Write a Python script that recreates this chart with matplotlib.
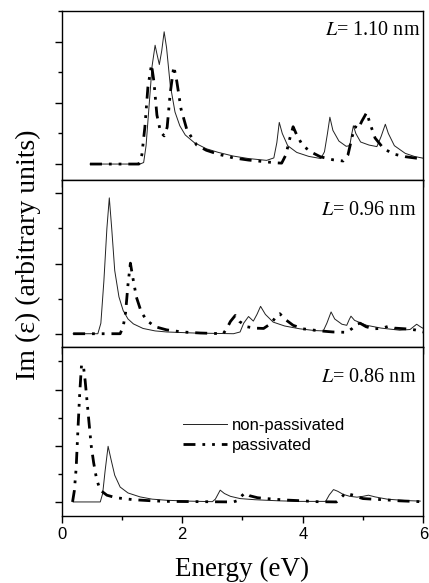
import matplotlib
matplotlib.use('Agg')
import matplotlib.pyplot as plt
from matplotlib.ticker import MultipleLocator

plt.rcParams['lines.scale_dashes'] = False

# L = 1.10 nm
e1_np = [0.47, 1.30, 1.36, 1.40, 1.45, 1.50, 1.55, 1.58, 1.62, 1.66, 1.70, 1.74, 1.80, 1.88, 1.96,
         2.05, 2.2, 2.4, 2.6, 2.85, 3.1, 3.4, 3.52, 3.57, 3.61, 3.66, 3.75, 3.9, 4.1, 4.3, 4.36,
         4.41, 4.45, 4.50, 4.6, 4.72, 4.78, 4.81, 4.84, 4.88, 4.96, 5.1, 5.23, 5.30, 5.37, 5.42,
         5.52, 5.7, 5.85, 6.0]
v1_np = [0, 0, 0.05, 0.6, 1.9, 3.2, 3.88, 3.6, 3.25, 3.7, 4.32, 3.8, 2.6, 1.7, 1.25,
         0.95, 0.7, 0.5, 0.38, 0.26, 0.18, 0.12, 0.2, 0.7, 1.36, 1.0, 0.6, 0.38, 0.25, 0.18, 0.4,
         1.0, 1.53, 1.1, 0.75, 0.58, 0.6, 0.95, 1.25, 1.0, 0.72, 0.62, 0.57, 0.9, 1.3, 1.0,
         0.6, 0.35, 0.25, 0.19]
e1_p = [0.47, 1.28, 1.33, 1.38, 1.43, 1.49, 1.53, 1.58, 1.64, 1.70, 1.75, 1.80, 1.86, 1.91, 1.98,
        2.08, 2.24, 2.4, 2.6, 2.85, 3.1, 3.4, 3.55, 3.65, 3.72, 3.78, 3.84, 3.90, 4.0, 4.15, 4.29,
        4.5, 4.67, 4.75, 4.82, 4.87, 4.92, 4.98, 5.06, 5.12, 5.2, 5.34, 5.5, 5.7, 5.89, 5.95]
v1_p = [0, 0, 0.3, 1.2, 2.5, 3.25, 2.7, 1.6, 1.05, 0.92, 1.2, 2.3, 3.19, 2.7, 1.8,
        1.1, 0.62, 0.45, 0.32, 0.2, 0.13, 0.07, 0.04, 0.03, 0.3, 0.8, 1.22, 0.95, 0.6, 0.38, 0.24,
        0.14, 0.1, 0.3, 0.9, 1.22, 1.15, 1.4, 1.68, 1.3, 0.85, 0.51, 0.33, 0.24, 0.19, 0.18]

# L = 0.96 nm
e2_np = [0.19, 0.60, 0.65, 0.70, 0.75, 0.79, 0.83, 0.88, 0.95, 1.02, 1.1, 1.19, 1.35, 1.55, 1.74,
         2.2, 2.85, 2.96, 3.02, 3.10, 3.18, 3.24, 3.30, 3.38, 3.51, 3.7, 3.95, 4.2, 4.34, 4.40,
         4.47, 4.53, 4.65, 4.73, 4.77, 4.80, 4.86, 5.06, 5.3, 5.61, 5.78, 5.89, 5.95, 6.0]
v2_np = [0, 0, 0.3, 1.5, 3.0, 3.87, 3.0, 1.8, 1.05, 0.66, 0.42, 0.28, 0.15, 0.08, 0.05,
         0.02, 0, 0.05, 0.3, 0.49, 0.36, 0.55, 0.78, 0.55, 0.33, 0.22, 0.14, 0.09, 0.08, 0.3,
         0.62, 0.42, 0.27, 0.24, 0.4, 0.5, 0.38, 0.24, 0.16, 0.1, 0.12, 0.27, 0.2, 0.15]
e2_p = [0.19, 0.97, 1.02, 1.06, 1.10, 1.14, 1.18, 1.24, 1.32, 1.41, 1.55, 1.74, 2.0, 2.3, 2.68,
        2.74, 2.80, 2.88, 2.95, 3.07, 3.2, 3.35, 3.48, 3.56, 3.62, 3.70, 3.84, 4.0, 4.29, 4.5,
        4.73, 4.82, 4.90, 4.95, 5.05, 5.17, 5.30, 5.42, 5.52, 5.7, 5.86, 6.0]
v2_p = [0, 0, 0.2, 0.6, 1.4, 2.01, 1.6, 1.04, 0.62, 0.38, 0.2, 0.11, 0.05, 0.02, 0,
        0.15, 0.35, 0.52, 0.35, 0.2, 0.16, 0.15, 0.3, 0.5, 0.57, 0.42, 0.24, 0.14, 0.08, 0.05,
        0.04, 0.15, 0.27, 0.3, 0.2, 0.14, 0.15, 0.21, 0.16, 0.14, 0.11, 0.05]

# L = 0.86 nm
e3_np = [0.19, 0.64, 0.68, 0.72, 0.77, 0.82, 0.88, 0.97, 1.1, 1.3, 1.5, 1.74, 2.1, 2.5, 2.55,
         2.63, 2.7, 2.8, 2.96, 3.2, 3.6, 3.95, 4.38, 4.44, 4.51, 4.58, 4.67, 4.78, 4.9, 5.0,
         5.09, 5.2, 5.4, 5.7, 5.95]
v3_np = [0, 0, 0.3, 1.1, 1.98, 1.5, 0.95, 0.53, 0.32, 0.18, 0.1, 0.06, 0.03, 0.01, 0.1,
         0.42, 0.3, 0.2, 0.12, 0.08, 0.04, 0.02, 0.02, 0.25, 0.44, 0.38, 0.27, 0.2, 0.17, 0.2,
         0.24, 0.18, 0.1, 0.05, 0.03]
e3_p = [0.18, 0.21, 0.24, 0.27, 0.30, 0.33, 0.36, 0.39, 0.42, 0.45, 0.49, 0.53, 0.58, 0.64, 0.75,
        0.9, 1.19, 1.5, 1.74, 2.3, 2.85, 2.92, 2.98, 3.04, 3.12, 3.25, 3.4, 3.7, 4.0, 4.23,
        4.56, 4.62, 4.68, 4.73, 4.78, 4.84, 4.92, 5.0, 5.15, 5.34, 5.6, 5.95]
v3_p = [0, 0.4, 1.2, 2.6, 3.9, 4.9, 4.85, 4.3, 3.6, 2.9, 2.0, 1.4, 0.8, 0.42, 0.24,
        0.15, 0.08, 0.04, 0.02, 0.01, 0, 0.05, 0.2, 0.32, 0.22, 0.15, 0.12, 0.07, 0.04, 0.01,
        0.0, 0.12, 0.25, 0.32, 0.27, 0.24, 0.17, 0.12, 0.1, 0.08, 0.04, 0.01]

labels = ['$L$= 1.10 nm', '$L$= 0.96 nm', '$L$= 0.86 nm']
ylims = [(-0.52, 5.0), (-0.37, 4.38), (-0.49, 5.5)]

serif = 'Liberation Serif'
sans = 'Liberation Sans'
plt.rcParams['mathtext.fontset'] = 'stix'

fig = plt.figure(figsize=(4.29, 5.83), dpi=100)
rects = [[0.1438, 0.6913, 0.8429, 0.2899],
         [0.1438, 0.4053, 0.8429, 0.2860],
         [0.1438, 0.1154, 0.8429, 0.2888]]
data = [(e1_np, v1_np, e1_p, v1_p), (e2_np, v2_np, e2_p, v2_p), (e3_np, v3_np, e3_p, v3_p)]
txt_pos = [(0.993, 0.858), (0.98, 0.79), (0.98, 0.796)]

dash = (0, (8.6, 5, 2, 5, 2, 5))
for i in range(3):
    ax = fig.add_axes(rects[i])
    enp, vnp, ep, vp = data[i]
    ax.plot(enp, vnp, color='#222222', lw=0.7, label='non-passivated')
    ax.plot(ep, vp, color='black', lw=2.0, linestyle=dash, label='passivated')
    ax.set_xlim(0, 6)
    ax.set_ylim(*ylims[i])
    ax.xaxis.set_major_locator(MultipleLocator(2))
    ax.xaxis.set_minor_locator(MultipleLocator(1))
    ax.yaxis.set_major_locator(MultipleLocator(2))
    ax.yaxis.set_minor_locator(MultipleLocator(1))
    ax.tick_params(which='both', direction='out', width=1.0)
    ax.tick_params(which='major', length=5)
    ax.tick_params(which='minor', length=3)
    ax.set_yticklabels([])
    for s in ax.spines.values():
        s.set_linewidth(1.0)
    if i < 2:
        ax.set_xticklabels([])
    else:
        for t in ax.get_xticklabels():
            t.set_fontfamily(sans)
            t.set_fontsize(12)
        ax.tick_params(axis='x', pad=3)
        ax.set_xlabel('Energy (eV)', fontsize=19.5, family=serif, labelpad=11)
        ax.legend(loc='center left', bbox_to_anchor=(0.335, 0.479), frameon=False,
                  prop={'family': sans, 'size': 12}, handlelength=2.64, handletextpad=0.3,
                  borderpad=0, borderaxespad=0, labelspacing=0.3)
    ax.text(txt_pos[i][0], txt_pos[i][1], labels[i], transform=ax.transAxes,
            ha='right', va='baseline', fontsize=14.5, family=serif)

fig.text(0.066, 0.563, 'Im (ε) (arbitrary units)', rotation=90, ha='center', va='center',
         fontsize=20, family=serif)

fig.savefig('out.png', dpi=100)
plt.close()
